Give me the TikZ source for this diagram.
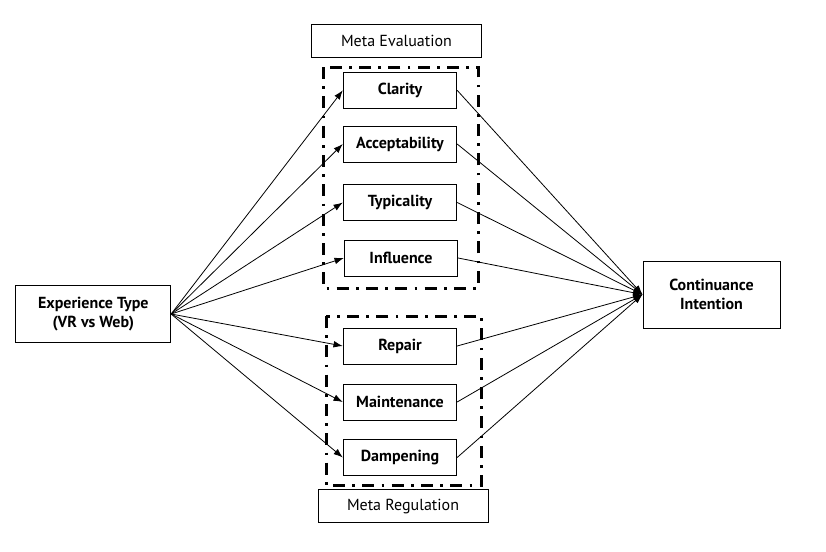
\documentclass[tikz,border=0pt]{standalone}
\usepackage{fontspec}
\setmainfont{PT Sans}
\usetikzlibrary{arrows.meta}

\begin{document}
\begin{tikzpicture}[x=0.75pt,y=-0.75pt,
  box/.style={draw, line width=0.75pt, minimum width=85pt, minimum height=27pt,
    inner sep=0pt, font=\bfseries\fontsize{12}{12}\selectfont},
  group/.style={draw, line width=0.75pt, minimum width=127.5pt, minimum height=24.5pt,
    inner sep=0pt, font=\fontsize{12}{12}\selectfont},
  outer/.style={draw, line width=0.75pt, inner sep=0pt, align=center,
    font=\bfseries\fontsize{12}{14.5}\selectfont},
  frame/.style={line width=2.25pt, dash pattern=on 9pt off 5.5pt on 2pt off 5.5pt},
  link/.style={-{Latex[length=7pt,width=5pt]}, line width=0.6pt}]
  \useasboundingbox (0,0) rectangle (826,551);

  % Meta Evaluation
  \draw[frame] (323,67) rectangle (478,288);
  \node[group] (eval) at (396.5,41.3) {Meta Evaluation};
  \node[box] (clar) at (400,90.3) {Clarity};
  \node[box] (acc) at (400,144) {Acceptability};
  \node[box] (typ) at (400,202.5) {Typicality};
  \node[box] (infl) at (401,258) {Influence};

  % Meta Regulation
  \draw[frame] (326,316) rectangle (481.5,485);
  \node[box] (rep) at (400,346) {Repair};
  \node[box] (maint) at (400,402) {Maintenance};
  \node[box] (damp) at (400,457.5) {Dampening};
  \node[group] (reg) at (403,506.3) {Meta Regulation};

  % Experience Type / Continuance Intention
  \node[outer, minimum width=116pt, minimum height=43.3pt] (exp) at (93.3,314)
    {Experience Type\\(VR vs Web)};
  \node[outer, minimum width=102.75pt, minimum height=50.25pt] (cont) at (711.5,294.5)
    {Continuance\\Intention};

  \foreach \n in {clar,acc,typ,infl,rep,maint,damp} {
    \draw[link] (exp.east) -- (\n.west);
    \draw[link] (\n.east) -- (cont.west);
  }
\end{tikzpicture}
\end{document}
